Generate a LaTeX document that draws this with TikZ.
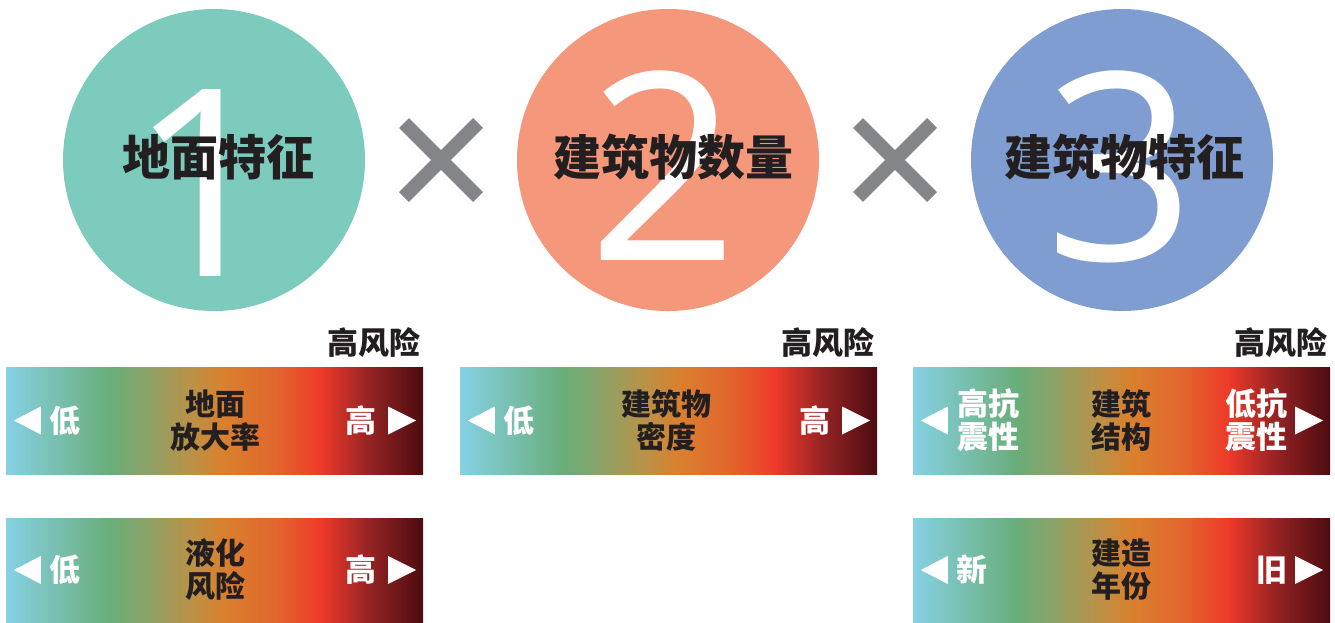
\documentclass[tikz,border=0pt]{standalone}
\usepackage{fontspec}
\usetikzlibrary{shapes.misc}
\newfontfamily\cjk{Noto Sans CJK SC}
\newfontfamily\numfont{Open Sans}
\definecolor{tealc}{HTML}{7CCBBD}
\definecolor{salmonc}{HTML}{F5977A}
\definecolor{bluec}{HTML}{7F9DD0}
\definecolor{crossc}{HTML}{848589}
\definecolor{inkc}{HTML}{231F20}
\definecolor{g0}{HTML}{86D1E4}
\definecolor{g1}{HTML}{69AD79}
\definecolor{g2}{HTML}{88A46A}
\definecolor{g3}{HTML}{B4944C}
\definecolor{g4}{HTML}{D9812E}
\definecolor{g5}{HTML}{E2652D}
\definecolor{g6}{HTML}{EE3A2A}
\definecolor{g7}{HTML}{952324}
\definecolor{g8}{HTML}{4D0C10}
\pgfdeclarehorizontalshading{riskgrad}{100bp}{color(0bp)=(g0); color(25bp)=(g0); color(37.5bp)=(g1); color(41.5bp)=(g2); color(46.5bp)=(g3); color(51bp)=(g4); color(57.5bp)=(g5); color(62.75bp)=(g6); color(68.5bp)=(g7); color(75bp)=(g8); color(100bp)=(g8)}
\begin{document}
\begin{tikzpicture}[x=1pt,y=-1pt,
  circ/.style={circle,minimum size=302pt,inner sep=0pt,draw=none},
  digit/.style={text=white,font=\numfont\fontsize{262}{262}\selectfont,inner sep=0pt},
  title/.style={text=inkc,font=\cjk\bfseries\fontsize{48}{48}\selectfont,inner sep=0pt},
  times/.style={cross out,draw=crossc,line width=14pt,minimum size=74pt,inner sep=0pt,outer sep=0pt},
  riskbar/.style={rectangle,minimum width=417pt,inner sep=0pt,draw=none,shading=riskgrad},
  risk/.style={text=inkc,font=\cjk\bfseries\fontsize{31}{31}\selectfont,inner sep=0pt},
  midlabel/.style={text=inkc,font=\cjk\bfseries\fontsize{30}{33}\selectfont,align=center,inner sep=0pt},
  sidelabel/.style={text=white,font=\cjk\bfseries\fontsize{31}{33}\selectfont,align=center,inner sep=0pt},
  tri/.style={fill=white}]
\useasboundingbox (0,0) rectangle (1335,622);
% circles
\node[circ,fill=tealc] (c1) at (214,160) {};
\node[circ,fill=salmonc] (c2) at (668,160) {};
\node[circ,fill=bluec] (c3) at (1122,160) {};
\node[digit] (d1) at (204,183) {1};
\node[digit] (d2) at (663,166) {2};
\node[digit] (d3) at (1120,167) {3};
\node[title] (t1) at (218,157) {地面特征};
\node[title] (t2) at (673.5,157) {建筑物数量};
\node[title] (t3) at (1124.5,157) {建筑物特征};
% multiplication signs
\node[times] (x1) at (441,160) {};
\node[times] (x2) at (895,160) {};
% high-risk captions
\node[risk,anchor=east] (r1) at (421,343) {高风险};
\node[risk,anchor=east] (r2) at (875,343) {高风险};
\node[risk,anchor=east] (r3) at (1328,343) {高风险};
% bars
\node[riskbar,minimum height=107pt] (b1) at (214.5,420.5) {};
\node[riskbar,minimum height=107pt] (b2) at (668.5,420.5) {};
\node[riskbar,minimum height=107pt] (b3) at (1121.5,420.5) {};
\node[riskbar,minimum height=104pt] (b4) at (214.5,570) {};
\node[riskbar,minimum height=104pt] (b5) at (1121.5,570) {};
% bar 1
\node[midlabel] (b1c) at ([xshift=1pt]b1.center) {地面\\放大率};
\node[sidelabel] (b1l) at ([xshift=59pt]b1.west) {低};
\node[sidelabel] (b1r) at ([xshift=-62pt]b1.east) {高};
\fill[tri] ([xshift=8pt]b1.west) -- ++(27,-14) -- ++(0,28) -- cycle;
\fill[tri] ([xshift=-7pt]b1.east) -- ++(-28,-14) -- ++(0,28) -- cycle;
% bar 2
\node[midlabel] (b2c) at ([xshift=-2pt]b2.center) {建筑物\\密度};
\node[sidelabel] (b2l) at ([xshift=59pt]b2.west) {低};
\node[sidelabel] (b2r) at ([xshift=-62pt]b2.east) {高};
\fill[tri] ([xshift=8pt]b2.west) -- ++(27,-14) -- ++(0,28) -- cycle;
\fill[tri] ([xshift=-7pt]b2.east) -- ++(-28,-14) -- ++(0,28) -- cycle;
% bar 3
\node[midlabel] (b3c) at (b3.center) {建筑\\结构};
\node[sidelabel] (b3l) at ([xshift=76pt]b3.west) {高抗\\震性};
\node[sidelabel] (b3r) at ([xshift=-74pt]b3.east) {低抗\\震性};
\fill[tri] ([xshift=8pt]b3.west) -- ++(27,-14) -- ++(0,28) -- cycle;
\fill[tri] ([xshift=-7pt]b3.east) -- ++(-28,-14) -- ++(0,28) -- cycle;
% bar 4
\node[midlabel] (b4c) at ([xshift=1pt]b4.center) {液化\\风险};
\node[sidelabel] (b4l) at ([xshift=59pt]b4.west) {低};
\node[sidelabel] (b4r) at ([xshift=-62pt]b4.east) {高};
\fill[tri] ([xshift=8pt]b4.west) -- ++(27,-14) -- ++(0,28) -- cycle;
\fill[tri] ([xshift=-7pt]b4.east) -- ++(-28,-14) -- ++(0,28) -- cycle;
% bar 5
\node[midlabel] (b5c) at (b5.center) {建造\\年份};
\node[sidelabel] (b5l) at ([xshift=59pt]b5.west) {新};
\node[sidelabel] (b5r) at ([xshift=-58pt]b5.east) {旧};
\fill[tri] ([xshift=8pt]b5.west) -- ++(27,-14) -- ++(0,28) -- cycle;
\fill[tri] ([xshift=-7pt]b5.east) -- ++(-28,-14) -- ++(0,28) -- cycle;
\end{tikzpicture}
\end{document}
